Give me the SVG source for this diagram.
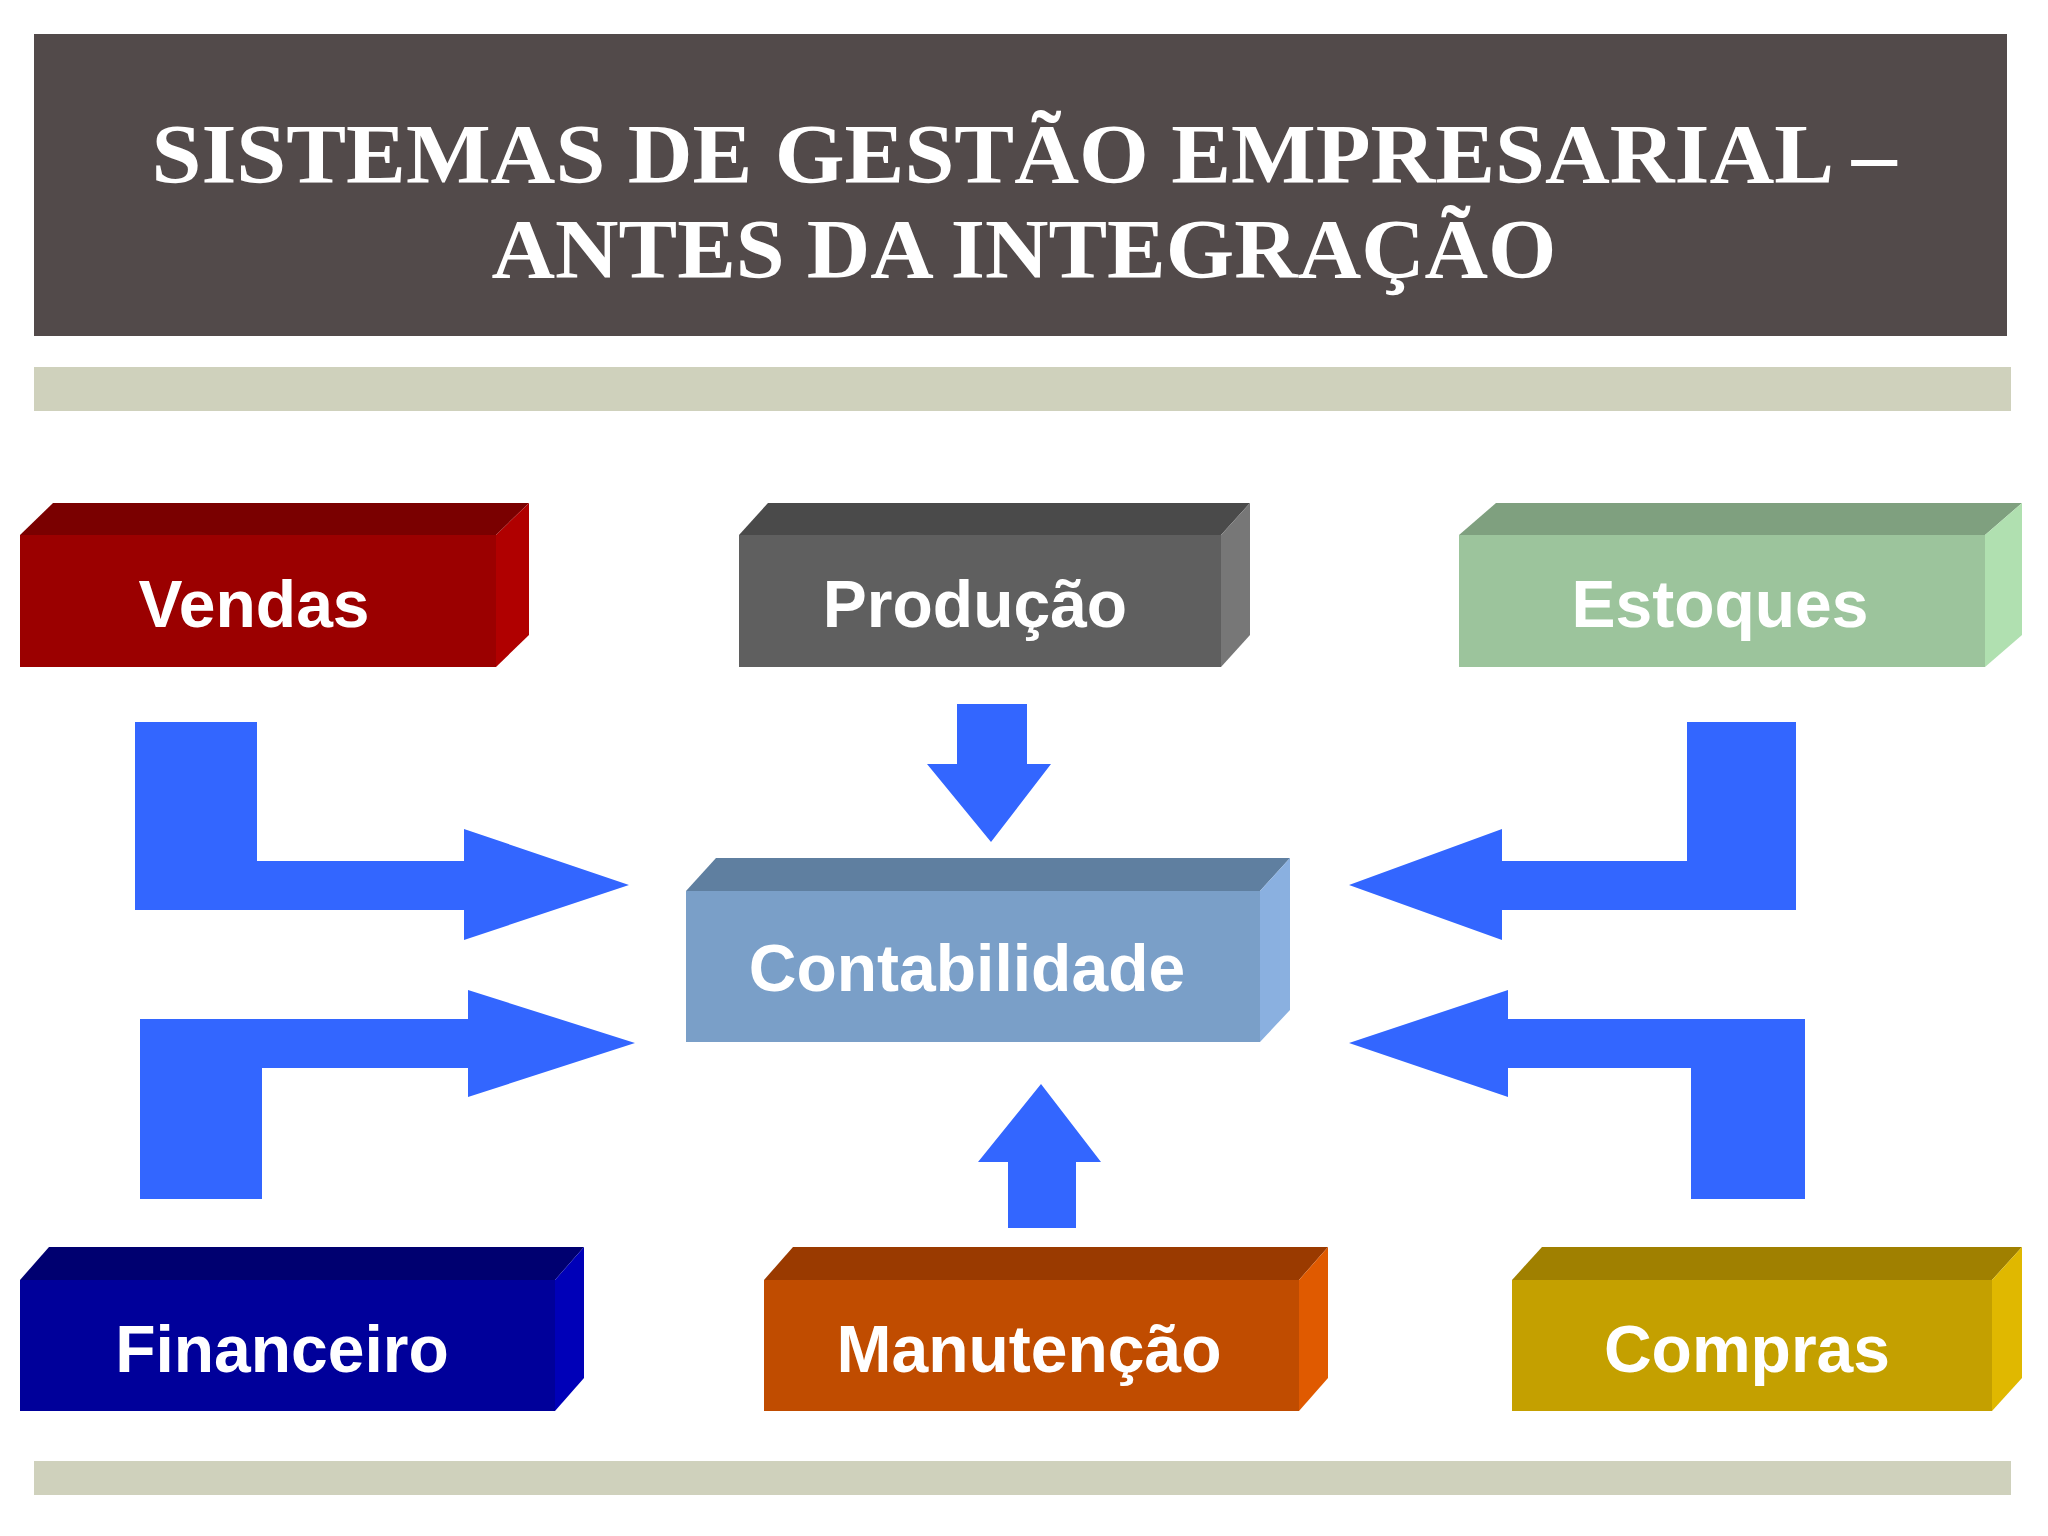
<svg xmlns="http://www.w3.org/2000/svg" width="2048" height="1536" viewBox="0 0 2048 1536">
<style>
.t{font-family:"Liberation Serif",serif;font-weight:bold;font-size:84px;fill:#fff;text-anchor:middle}
.l{font-family:"Liberation Sans",Arial,sans-serif;font-weight:bold;font-size:66px;fill:#fff;text-anchor:middle}
.a{fill:#3366ff}
</style>
<rect width="2048" height="1536" fill="#fff"/>
<rect x="34" y="34" width="1973" height="302" fill="#524a4a"/>
<text class="t" x="1024" y="183" textLength="1745" lengthAdjust="spacingAndGlyphs">SISTEMAS DE GESTÃO EMPRESARIAL –</text>
<text class="t" x="1024" y="278" textLength="1065" lengthAdjust="spacingAndGlyphs">ANTES DA INTEGRAÇÃO</text>
<rect x="34" y="367" width="1977" height="44" fill="#cfd1bc"/>
<rect x="34" y="1461" width="1977" height="34" fill="#cfd1bc"/>
<g id="connectors">
<polygon class="a" points="135,722 257,722 257,861 464,861 464,829 629,885 464,940 464,910 135,910"/>
<polygon class="a" points="140,1199 262,1199 262,1068 468,1068 468,1097 635,1043 468,990 468,1019 140,1019"/>
<polygon class="a" points="1796,722 1687,722 1687,861 1502,861 1502,829 1349,885 1502,940 1502,910 1796,910"/>
<polygon class="a" points="1805,1199 1691,1199 1691,1068 1508,1068 1508,1097 1349,1043 1508,990 1508,1019 1805,1019"/>
<polygon class="a" points="957,704 1027,704 1027,764 1051,764 991,842 927,764 957,764"/>
<polygon class="a" points="1008,1228 1076,1228 1076,1162 1101,1162 1041,1084 978,1162 1008,1162"/>
</g>
<g id="vendas"><polygon points="20,535 496,535 529,503 53,503" fill="#7a0000"/><polygon points="496,535 529,503 529,635 496,667" fill="#b00000"/><rect x="20" y="535" width="476" height="132" fill="#9b0000"/><text class="l" x="254" y="627">Vendas</text></g>
<g id="producao"><polygon points="739,535 1221,535 1250,503 768,503" fill="#4a4a4a"/><polygon points="1221,535 1250,503 1250,635 1221,667" fill="#777"/><rect x="739" y="535" width="482" height="132" fill="#5f5f5f"/><text class="l" x="975" y="627">Produção</text></g>
<g id="estoques"><polygon points="1459,535 1985,535 2022,503 1496,503" fill="#7fa07f"/><polygon points="1985,535 2022,503 2022,635 1985,667" fill="#b0e0b0"/><rect x="1459" y="535" width="526" height="132" fill="#9cc49c"/><text class="l" x="1720" y="627">Estoques</text></g>
<g id="contabilidade"><polygon points="686,891 1260,891 1290,858 716,858" fill="#5f7fa0"/><polygon points="1260,891 1290,858 1290,1010 1260,1042" fill="#8ab0e0"/><rect x="686" y="891" width="574" height="151" fill="#7a9fc8"/><text class="l" x="967" y="991">Contabilidade</text></g>
<g id="financeiro"><polygon points="20,1280 555,1280 584,1247 49,1247" fill="#000070"/><polygon points="555,1280 584,1247 584,1378 555,1411" fill="#0000b8"/><rect x="20" y="1280" width="535" height="131" fill="#00009a"/><text class="l" x="282" y="1372">Financeiro</text></g>
<g id="manutencao"><polygon points="764,1280 1299,1280 1328,1247 793,1247" fill="#9a3a00"/><polygon points="1299,1280 1328,1247 1328,1378 1299,1411" fill="#e05a00"/><rect x="764" y="1280" width="535" height="131" fill="#c04c00"/><text class="l" x="1029" y="1372">Manutenção</text></g>
<g id="compras"><polygon points="1512,1280 1992,1280 2022,1247 1542,1247" fill="#a08000"/><polygon points="1992,1280 2022,1247 2022,1378 1992,1411" fill="#e0b800"/><rect x="1512" y="1280" width="480" height="131" fill="#c4a000"/><text class="l" x="1747" y="1372">Compras</text></g>
</svg>
